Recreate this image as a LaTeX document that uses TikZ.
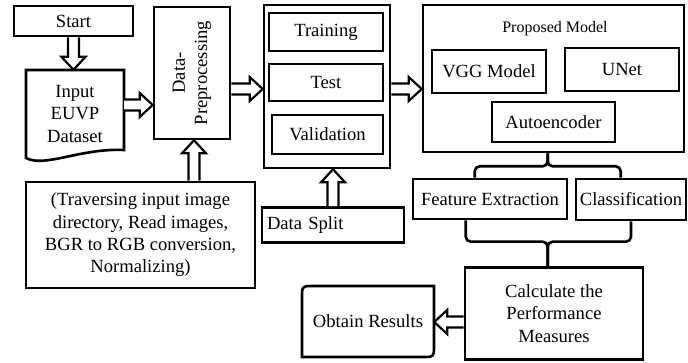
\documentclass[tikz,border=0pt]{standalone}
\usepackage{fontspec}
\setmainfont{Liberation Serif}
\usetikzlibrary{calc}

% hollow block arrow between two points
\newcommand\hollowarrow[2]{%
  \draw[fatarrow] let \p1=#1, \p2=#2,
    \n1={atan2(\y2-\y1,\x2-\x1)}, \n2={veclen(\x2-\x1,\y2-\y1)} in
    [shift={(\p1)}, rotate=\n1]
    (0pt,-5.5pt) -- (\n2-13pt,-5.5pt) -- (\n2-13pt,-12pt) -- (\n2,0pt)
    -- (\n2-13pt,12pt) -- (\n2-13pt,5.5pt) -- (0pt,5.5pt);
}

\tikzset{
  box/.style={draw, line width=2.6pt, inner sep=0pt, align=center},
  fatarrow/.style={draw, line width=2.2pt, fill=white, line join=miter},
  conn/.style={draw, line width=2.6pt, rounded corners=5pt},
}

\begin{document}
\begin{tikzpicture}[x=1pt, y=-1pt, font=\fontsize{18.6}{22.3}\selectfont]
\useasboundingbox (0,0) rectangle (688,363);

% left column
\node[box, minimum width=119pt, minimum height=30pt] (start) at (73.5,21) {Start};
\draw[line width=2.6pt, line join=miter]
  (26,158) -- (26,70) -- (124,70) -- (124,150)
  .. controls (80,148) and (45,168) .. cycle;
\node[minimum width=98pt, minimum height=88pt, inner sep=0pt, align=center] (input) at (75,114) {Input\\EUVP\\Dataset};

\node[box, minimum width=76pt, minimum height=132pt] (dp) at (192,73) {};
\node[rotate=90, align=center] (dptext) at (dp.center) {Data-\\Preprocessing};

\node[box, minimum width=229pt, minimum height=106pt] (trav) at (140.5,235)
  {(Traversing input image\\directory, Read images,\\BGR to RGB conversion,\\Normalizing)};

% split column
\node[box, minimum width=126pt, minimum height=163pt] (split) at (327,86.5) {};
\node[box, minimum width=114pt, minimum height=38pt] (train) at (326,32) {Training};
\node[box, minimum width=114pt, minimum height=37pt] (test) at (326,82.5) {Test};
\node[box, minimum width=111pt, minimum height=39pt] (valid) at (327.5,134.5) {Validation};

\node[box, minimum width=142pt, minimum height=35pt, text width=132pt, align=left] (dsplit) at (333,225) {Data Split};

% proposed model
\node[box, minimum width=261pt, minimum height=147pt] (pm) at (553.5,78.5) {};
\node[font=\fontsize{16}{19}\selectfont] (pmtitle) at (555,29) {Proposed Model};
\node[box, minimum width=114pt, minimum height=43pt] (vgg) at (489,71.5) {VGG Model};
\node[box, minimum width=114pt, minimum height=43pt] (unet) at (622,69.5) {UNet};
\node[box, minimum width=123pt, minimum height=40pt] (auto) at (553.5,122) {Autoencoder};

\node[box, minimum width=154pt, minimum height=40pt] (fe) at (490,199) {Feature Extraction};
\node[box, minimum width=110pt, minimum height=41pt] (cl) at (631,199.5) {Classification};

\node[box, minimum width=178pt, minimum height=92pt] (calc) at (554,313.5) {Calculate the\\Performance\\Measures};

% result box with two rounded corners
\node[minimum width=132pt, minimum height=71pt, inner sep=0pt] (obtain) at (368,321.5) {Obtain Results};
\draw[line width=2.6pt]
  (434,286) -- (314,286) .. controls (302,286) .. (302,298)
  -- (302,357) -- (422,357) .. controls (434,357) .. (434,345) -- cycle;

% block arrows
\hollowarrow{(start.south)}{(start.south |- input.north)}
\coordinate (a2) at ([yshift=9pt]input.east);
\hollowarrow{(a2)}{(a2 -| dp.west)}
\coordinate (a3) at ([yshift=-16pt]dp.east);
\hollowarrow{(a3)}{(a3 -| split.west)}
\coordinate (a4) at ([yshift=-2.5pt]split.east);
\hollowarrow{(a4)}{(a4 -| pm.west)}
\coordinate (a5) at ([xshift=2pt]dp.south |- trav.north);
\hollowarrow{(a5)}{(a5 |- dp.south)}
\hollowarrow{(dsplit.north)}{(dsplit.north |- split.south)}
\coordinate (a7) at ([yshift=-8.5pt]calc.west);
\hollowarrow{(a7)}{(a7 -| obtain.east)}

% brace connectors
\coordinate (tj) at ($(pm.south west)+(126,13)$);
\draw[conn] ($(fe.north west)+(63,0)$) |- (tj) -- (tj |- pm.south);
\draw[conn] ($(cl.north west)+(46,0)$) |- (tj) -- (tj |- pm.south);
\coordinate (bj) at ($(calc.north west)+(84,-24.5)$);
\draw[conn] ($(fe.south west)+(54,0)$) |- (bj) -- (bj |- calc.north);
\draw[conn] (cl.south) |- (bj) -- (bj |- calc.north);
\end{tikzpicture}
\end{document}
